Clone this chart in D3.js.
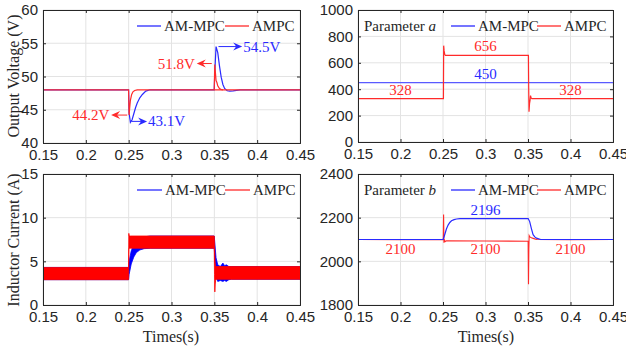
<!DOCTYPE html>
<html>
<head>
<meta charset="utf-8">
<script src="https://cdn.jsdelivr.net/npm/d3@7"></script>
<style>
  body { margin: 0; background: #fff; }
  svg { display: block; font-family: "Liberation Serif", "Times New Roman", serif; }
</style>
</head>
<body>
<svg id="chart" width="626" height="349"></svg>
<script>
// time ticks shared by all panels
var timeTicks = [0.15, 0.2, 0.25, 0.3, 0.35, 0.4, 0.45];

// output voltage (V)
var vBlueT = [0.15, 0.2499, 0.2505, 0.252, 0.254, 0.256, 0.258, 0.26, 0.263, 0.266, 0.27, 0.275, 0.3499, 0.3505, 0.352, 0.354, 0.356, 0.358, 0.36, 0.362, 0.365, 0.368, 0.372, 0.38, 0.45];
var vBlue  = [48, 48, 44.5, 43.1, 43.5, 44.4, 45.3, 46.0, 46.8, 47.3, 47.8, 48, 48, 50.5, 54.5, 53.6, 51.6, 49.9, 48.8, 48.2, 47.85, 47.8, 47.85, 48, 48];
var vRedT  = [0.15, 0.2499, 0.2505, 0.2512, 0.252, 0.2535, 0.255, 0.257, 0.26, 0.45];
var vRed   = [48, 48, 44.2, 45.3, 46.4, 47.3, 47.7, 47.9, 48, 48];
var vRedT2 = [0.3499, 0.3505, 0.3515, 0.352, 0.353, 0.354, 0.356, 0.358, 0.36];
var vRed2  = [48, 51.8, 50.2, 49.4, 49.1, 48.6, 48.2, 48.05, 48];

// inductor current ripple envelopes (A)
var iRedT   = [0.15, 0.2499, 0.2502, 0.2506, 0.252, 0.3499, 0.3502, 0.3506, 0.351, 0.3515, 0.352, 0.45];
var iRedLo  = [2.9, 2.9, 6.4, 6.5, 6.5, 6.5, 3.5, 1.5, 2.4, 2.8, 2.95, 2.95];
var iRedHi  = [4.3, 4.3, 8.2, 7.9, 7.9, 7.9, 7.2, 5.5, 4.8, 4.5, 4.4, 4.4];
var iBlueT  = [0.15, 0.2499, 0.2505, 0.253, 0.256, 0.259, 0.263, 0.268, 0.275, 0.3499, 0.352, 0.354, 0.357, 0.36, 0.362, 0.364, 0.367, 0.37, 0.45];
var iBlueLo = [2.9, 2.9, 3.5, 4.7, 5.5, 6.0, 6.3, 6.45, 6.5, 6.5, 3.2, 2.7, 2.8, 2.7, 2.8, 2.7, 2.9, 2.95, 2.95];
var iBlueHi = [4.3, 4.3, 5.0, 6.2, 6.9, 7.3, 7.6, 7.8, 7.9, 7.9, 5.4, 4.6, 4.4, 4.8, 4.5, 4.6, 4.4, 4.4, 4.4];

// parameter a
var aBlueT = [0.15, 0.45];
var aBlue  = [450, 450];
var aRedT  = [0.15, 0.2505, 0.2508, 0.2513, 0.252, 0.2528, 0.3505, 0.3508, 0.3512, 0.3518, 0.3525, 0.353, 0.3536, 0.3545, 0.45];
var aRed   = [328, 328, 730, 690, 665, 656, 656, 420, 230, 290, 318, 352, 335, 328, 328];

// parameter b
var bBlueT = [0.15, 0.2502, 0.252, 0.254, 0.256, 0.258, 0.26, 0.263, 0.266, 0.27, 0.3502, 0.352, 0.354, 0.356, 0.358, 0.36, 0.365, 0.45];
var bBlue  = [2100, 2100, 2122, 2148, 2166, 2178, 2186, 2191, 2194, 2196, 2196, 2182, 2150, 2122, 2112, 2106, 2100, 2100];
var bRedT  = [0.15, 0.2, 0.2503, 0.2507, 0.2511, 0.2516, 0.2525, 0.254, 0.3, 0.3502, 0.3506, 0.351, 0.3514, 0.3522, 0.354, 0.357, 0.36, 0.4, 0.45];
var bRed   = [2100, 2099, 2100, 2215, 2085, 2100, 2090, 2094, 2093, 2092, 1895, 2060, 2118, 2112, 2108, 2104, 2100, 2099, 2100];

var yTicksV = [40, 45, 50, 55, 60];
var yTicksI = [0, 5, 10, 15];
var yTicksA = [0, 200, 400, 600, 800, 1000];
var yTicksB = [1800, 2000, 2200, 2400];

var seriesNames = ["AM-MPC", "AMPC"];

var svg = d3.select("#chart");
var dark = "#262626";
var blue = "#2a2aff", red = "#ff2a2a";

function makePanel(p) {
  var x = d3.scaleLinear().domain([0.15, 0.45]).range([p.x0, p.x1]);
  var y = d3.scaleLinear().domain(p.yDomain).range([p.y1, p.y0]);
  var g = svg.append("g");

  // grid
  g.selectAll("line.gx").data(timeTicks).enter().append("line")
    .attr("x1", x).attr("x2", x).attr("y1", p.y0).attr("y2", p.y1)
    .attr("stroke", "#e3e3e3").attr("stroke-width", 1);
  g.selectAll("line.gy").data(p.yTicks).enter().append("line")
    .attr("x1", p.x0).attr("x2", p.x1).attr("y1", y).attr("y2", y)
    .attr("stroke", "#e3e3e3").attr("stroke-width", 1);

  var clip = "clip" + p.id;
  svg.append("clipPath").attr("id", clip).append("rect")
    .attr("x", p.x0).attr("y", p.y0).attr("width", p.x1 - p.x0).attr("height", p.y1 - p.y0);
  var plot = g.append("g").attr("clip-path", "url(#" + clip + ")");

  // axes (inner ticks)
  var ax = [
    g.append("g").attr("transform", "translate(0," + p.y1 + ")").call(d3.axisBottom(x).tickValues(timeTicks).tickSize(-3).tickFormat(d3.format("~g"))),
    g.append("g").attr("transform", "translate(0," + p.y0 + ")").call(d3.axisTop(x).tickValues(timeTicks).tickSize(-3).tickFormat("")),
    g.append("g").attr("transform", "translate(" + p.x0 + ",0)").call(d3.axisLeft(y).tickValues(p.yTicks).tickSize(-3).tickFormat(d3.format("d"))),
    g.append("g").attr("transform", "translate(" + p.x1 + ",0)").call(d3.axisRight(y).tickValues(p.yTicks).tickSize(-3).tickFormat(""))
  ];
  ax.forEach(function (a) {
    a.selectAll("path").attr("stroke", dark);
    a.selectAll("line").attr("stroke", dark);
    a.selectAll("text").attr("fill", dark).attr("font-size", "15px").attr("font-family", null);
  });
  ax[0].selectAll("text").attr("dy", "0.9em").attr("y", 3);
  ax[2].selectAll("text").attr("x", -5);

  return { x: x, y: y, g: g, plot: plot };
}

function drawLine(panel, ts, vs, color, w) {
  var line = d3.line().x(function (d) { return panel.x(d[0]); }).y(function (d) { return panel.y(d[1]); });
  panel.plot.append("path").datum(d3.zip(ts, vs)).attr("d", line)
    .attr("fill", "none").attr("stroke", color).attr("stroke-width", w || 1.2);
}

function drawBand(panel, ts, lo, hi, color) {
  var area = d3.area().x(function (d) { return panel.x(d[0]); })
    .y0(function (d) { return panel.y(d[1]); }).y1(function (d) { return panel.y(d[2]); });
  panel.plot.append("path").datum(d3.zip(ts, lo, hi)).attr("d", area)
    .attr("fill", color).attr("stroke", color).attr("stroke-width", 0.8);
}

function legend(panel, lx, ly, lineLen, gap) {
  var cols = [blue, red];
  var xs = [lx, lx + gap];
  seriesNames.forEach(function (n, i) {
    panel.g.append("line").attr("x1", xs[i]).attr("x2", xs[i] + lineLen).attr("y1", ly).attr("y2", ly)
      .attr("stroke", cols[i]).attr("stroke-width", 1.3);
    panel.g.append("text").attr("x", xs[i] + lineLen + 3).attr("y", ly + 5)
      .attr("font-size", "15px").attr("fill", dark).text(n);
  });
}

function label(panel, tx, ty, txt, color, anchor) {
  panel.g.append("text").attr("x", tx).attr("y", ty).attr("font-size", "15px")
    .attr("fill", color).attr("text-anchor", anchor || "middle").text(txt);
}

function arrow(panel, x1, x2, yy, color) {
  var dir = x2 > x1 ? 1 : -1;
  panel.g.append("line").attr("x1", x1).attr("x2", x2 - dir * 6).attr("y1", yy).attr("y2", yy)
    .attr("stroke", color).attr("stroke-width", 1);
  panel.g.append("path")
    .attr("d", "M" + x2 + "," + yy + "L" + (x2 - dir * 9) + "," + (yy - 4) + "L" + (x2 - dir * 6) + "," + yy + "L" + (x2 - dir * 9) + "," + (yy + 4) + "Z")
    .attr("fill", color);
}

// panel 1: output voltage
var p1 = makePanel({ id: 1, x0: 43, x1: 300, y0: 10, y1: 143, yDomain: [40, 60], yTicks: yTicksV });
drawLine(p1, vBlueT, vBlue, blue);
drawLine(p1, vRedT, vRed, red);
drawLine(p1, vRedT2, vRed2, red);
legend(p1, 137, 26, 24, 88);
arrow(p1, p1.x(0.3525) + 2, p1.x(0.3825), p1.y(54.5), blue);
label(p1, p1.x(0.3825) + 1, p1.y(54.5) + 5, "54.5V", blue, "start");
arrow(p1, p1.x(0.3505) - 3, p1.x(0.3295), p1.y(51.8) - 1, red);
label(p1, p1.x(0.3285) - 1, p1.y(51.8) + 4, "51.8V", red, "end");
arrow(p1, p1.x(0.2495) - 1, p1.x(0.2295), p1.y(44.2), red);
label(p1, p1.x(0.2285) - 1, p1.y(44.2) + 5, "44.2V", red, "end");
arrow(p1, p1.x(0.252) + 1, p1.x(0.2715), p1.y(43.1) - 1, blue);
label(p1, p1.x(0.2715) + 1, p1.y(43.1) + 4, "43.1V", blue, "start");

// panel 2: parameter a
var p2 = makePanel({ id: 2, x0: 358, x1: 613, y0: 10, y1: 142, yDomain: [0, 1000], yTicks: yTicksA });
drawLine(p2, aBlueT, aBlue, "#5a5aff", 1.3);
drawLine(p2, aRedT, aRed, red);
legend(p2, 451, 26, 24, 86);
var pa = p2.g.append("text").attr("x", 364).attr("y", 31).attr("font-size", "15px").attr("fill", dark);
pa.append("tspan").text("Parameter ");
pa.append("tspan").attr("font-style", "italic").text("a");
label(p2, p2.x(0.3), p2.y(656) - 4, "656", red);
label(p2, p2.x(0.3), p2.y(450) - 4, "450", blue);
label(p2, p2.x(0.2), p2.y(328) - 4, "328", red);
label(p2, p2.x(0.4), p2.y(328) - 4, "328", red);

// panel 3: inductor current
var p3 = makePanel({ id: 3, x0: 43, x1: 300, y0: 174, y1: 305, yDomain: [0, 15], yTicks: yTicksI });
drawBand(p3, iBlueT, iBlueLo, iBlueHi, "#0000ff");
drawBand(p3, iRedT, iRedLo, iRedHi, "#ff0000");
legend(p3, 137, 190, 25, 88);

// panel 4: parameter b
var p4 = makePanel({ id: 4, x0: 358, x1: 613, y0: 174, y1: 305, yDomain: [1800, 2400], yTicks: yTicksB });
drawLine(p4, bRedT, bRed, red, 1.1);
drawLine(p4, bBlueT, bBlue, blue, 1.2);
legend(p4, 451, 190, 24, 86);
var pb = p4.g.append("text").attr("x", 364).attr("y", 195).attr("font-size", "15px").attr("fill", dark);
pb.append("tspan").text("Parameter ");
pb.append("tspan").attr("font-style", "italic").text("b");
label(p4, p4.x(0.3), p4.y(2196) - 4, "2196", blue);
label(p4, p4.x(0.2), p4.y(2100) + 14, "2100", red);
label(p4, p4.x(0.3), p4.y(2100) + 14, "2100", red);
label(p4, p4.x(0.4), p4.y(2100) + 14, "2100", red);

// axis titles
svg.append("text").attr("transform", "translate(19,76) rotate(-90)").attr("text-anchor", "middle")
  .attr("font-size", "16px").attr("fill", dark).text("Output Voltage (V)");
svg.append("text").attr("transform", "translate(19,240) rotate(-90)").attr("text-anchor", "middle")
  .attr("font-size", "16px").attr("fill", dark).text("Inductor Current (A)");
svg.append("text").attr("x", 171).attr("y", 342).attr("text-anchor", "middle")
  .attr("font-size", "16px").attr("fill", dark).text("Times(s)");
svg.append("text").attr("x", 486).attr("y", 342).attr("text-anchor", "middle")
  .attr("font-size", "16px").attr("fill", dark).text("Times(s)");
</script>
</body>
</html>
